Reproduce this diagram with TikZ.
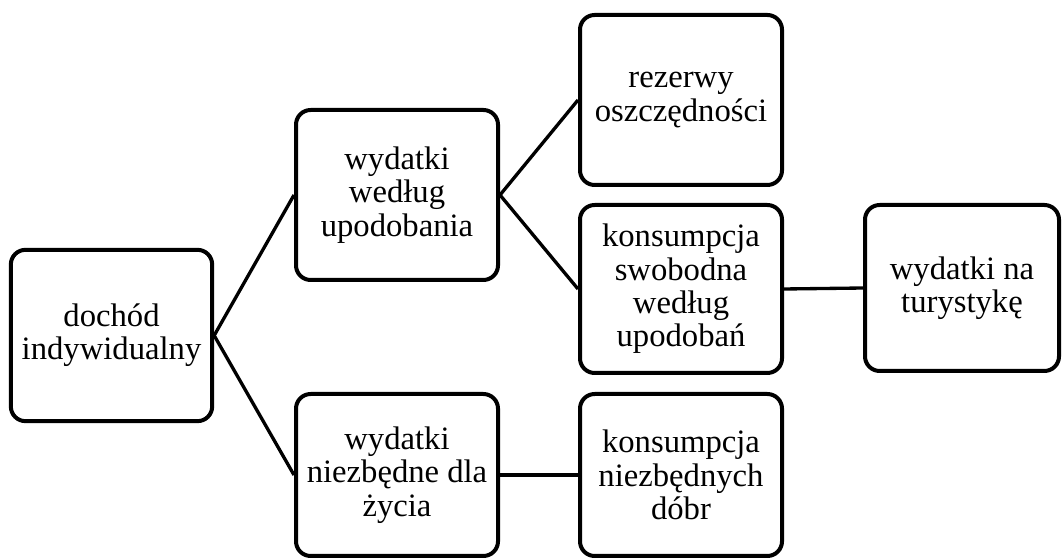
\documentclass[tikz,border=0pt]{standalone}
\usepackage{fontspec}
\setmainfont{Liberation Serif}
\usepackage{tikz}
\tikzstyle{item}=[rectangle, draw, rounded corners=11pt, line width=3pt, align=center, minimum width=151.5pt, minimum height=127.5pt, font=\fontsize{24.5}{25}\selectfont]
\tikzstyle{link}=[line width=2.5pt]

\begin{document}
\begin{tikzpicture}[x=0.75pt, y=0.75pt]
                    \useasboundingbox (0, 0) rectangle (1063, 560);
                    \node[item, minimum width=151pt, minimum height=128.5pt] (d) at (111.5, 224.5) {doch\'od\\indywidualny};
                    \node[item] (w1) at (397, 365) {wydatki\\według\\upodobania};
                    \node[item, minimum height=121.5pt] (w2) at (397, 85) {wydatki\\niezbędne dla\\życia};
                    \node[item] (r) at (681, 460) {rezerwy\\oszczędności};
                    \node[item, minimum height=126pt] (k1) at (681, 271) {konsumpcja\\swobodna\\według\\upodobań};
                    \node[item, minimum height=121.5pt] (k2) at (681, 85) {konsumpcja\\niezbędnych\\dóbr};
                    \node[item, minimum width=145.5pt, minimum height=124.5pt] (t) at (962, 272) {wydatki na\\turystykę};
                    \draw[link] (d.east)--(w1.west) (d.east)--(w2.west);
                    \draw[link] (w1.east)--(r.west) (w1.east)--(k1.west);
                    \draw[link] (w2.east)--(k2.west);
                    \draw[link] (k1.east)--(t.west);
                \end{tikzpicture}
\end{document}
